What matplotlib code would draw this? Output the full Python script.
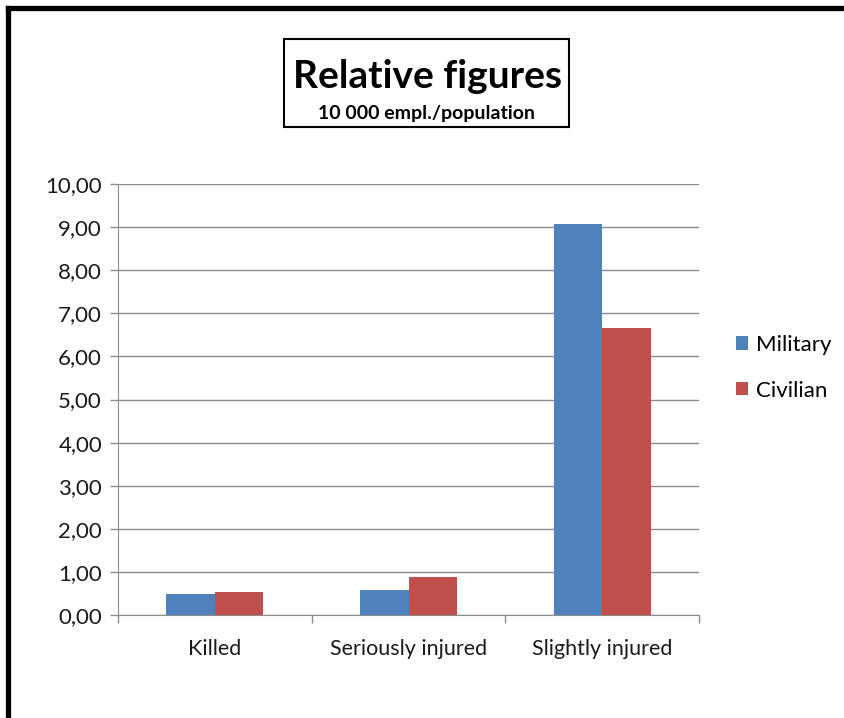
import matplotlib
matplotlib.use("Agg")
import matplotlib.pyplot as plt
import numpy as np
from matplotlib.patches import Rectangle
from matplotlib.lines import Line2D

categories = ["Killed", "Seriously injured", "Slightly injured"]
military = [0.48, 0.58, 9.08]
civilian = [0.53, 0.88, 6.66]
series_names = ["Military", "Civilian"]
yticks = [0, 1, 2, 3, 4, 5, 6, 7, 8, 9, 10]

plt.rcParams["font.family"] = ["Lato", "DejaVu Sans"]

W, H = 845, 718
fig = plt.figure(figsize=(W / 100, H / 100), dpi=100)

def fx(px):
    return px / W

def fy(py):
    return 1 - py / H

ax = fig.add_axes([fx(118), fy(615), fx(699) - fx(118), fy(184) - fy(615)])

x = np.arange(len(categories))
bw = 0.25
ax.bar(x - bw / 2, military, width=bw, color="#4f81bd", label=series_names[0], zorder=3)
ax.bar(x + bw / 2, civilian, width=bw, color="#c0504d", label=series_names[1], zorder=3)

ax.set_xlim(-0.5, len(categories) - 0.5)
ax.set_ylim(0, 10)
ax.set_yticks(yticks)
ax.set_yticklabels([f"{v:.2f}".replace(".", ",") for v in yticks], fontsize=16, color="#1a1a1a")
ax.yaxis.grid(True, color="#8c8c8c", linewidth=1.0, zorder=0)
ax.set_axisbelow(True)

ax.set_xticks(np.arange(-0.5, len(categories), 1.0))
ax.set_xticklabels([])
ax.set_xticks(x, minor=True)
ax.set_xticklabels(categories, minor=True, fontsize=15.5, color="#1a1a1a")
ax.tick_params(axis="x", which="minor", length=0, pad=17)
ax.tick_params(axis="x", which="major", length=6, color="#8c8c8c", width=1.0)
ax.tick_params(axis="y", length=6, color="#8c8c8c", width=1.0, pad=5.5)

for s in ["top", "right"]:
    ax.spines[s].set_visible(False)
ax.spines["left"].set_color("#8c8c8c")
ax.spines["bottom"].set_color("#8c8c8c")

leg = fig.legend(loc="upper left", bbox_to_anchor=(fx(736), fy(335)), frameon=False,
                 fontsize=16, handlelength=0.55, handleheight=0.55, handletextpad=0.35,
                 labelspacing=1.15, borderpad=0, borderaxespad=0)

# title box
fig.patches.append(Rectangle((fx(284), fy(127)), fx(569) - fx(284), fy(39) - fy(127),
                             transform=fig.transFigure, fill=False, edgecolor="black",
                             linewidth=1.5))
fig.text(fx(427.5), fy(76), "Relative figures", ha="center", va="center",
         fontsize=28, fontweight="bold")
fig.text(fx(427), fy(113), "10 000 empl./population", ha="center", va="center",
         fontsize=14, fontweight="bold")

# outer frame (left and top edges)
fig.lines.append(Line2D([fx(8.5), fx(8.5)], [0, fy(7.5)], transform=fig.transFigure,
                        color="black", linewidth=3.8, solid_capstyle="projecting"))
fig.lines.append(Line2D([fx(8.5), 1], [fy(7.5), fy(7.5)], transform=fig.transFigure,
                        color="black", linewidth=3.8, solid_capstyle="projecting"))

fig.savefig("out.png", dpi=100)
